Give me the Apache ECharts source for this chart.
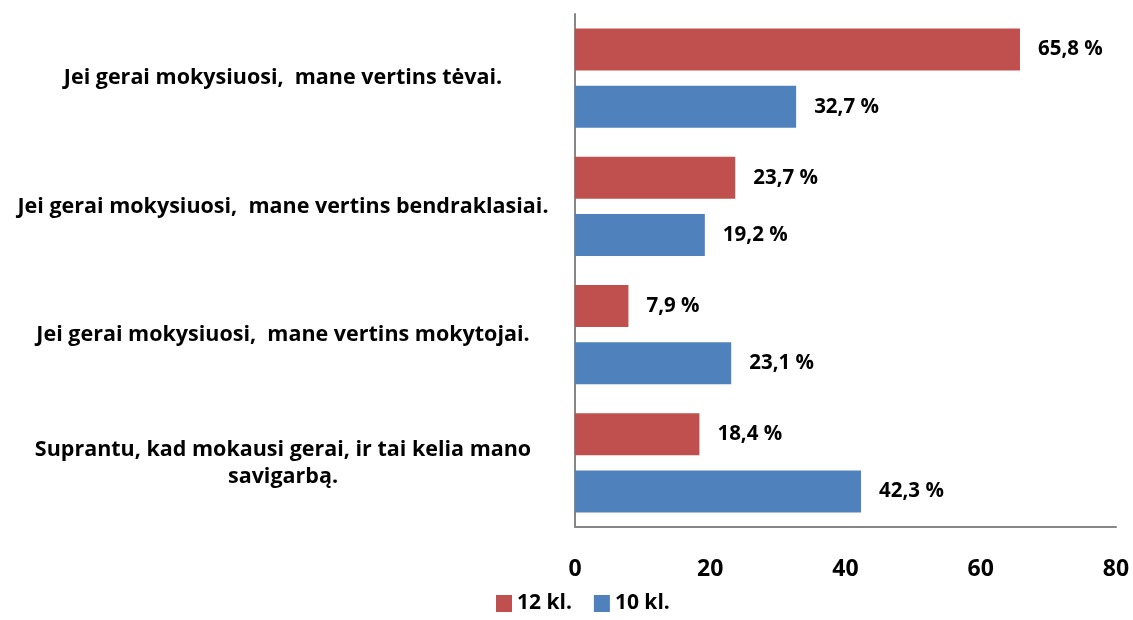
<!DOCTYPE html>
<head>
    <meta charset="utf-8">
    <title>ECharts</title>
</head>
<body style="margin:0">
<div id="main" style="width:1133px;height:620px"></div>
<script src="https://cdn.jsdelivr.net/npm/echarts@6/dist/echarts.min.js"></script>
<script type="text/javascript">
// kategorijos (iš viršaus į apačią)
var categories = [
    'Jei gerai mokysiuosi,  mane vertins tėvai.',
    'Jei gerai mokysiuosi,  mane vertins bendraklasiai.',
    'Jei gerai mokysiuosi,  mane vertins mokytojai.',
    'Suprantu, kad mokausi gerai, ir tai kelia mano\nsavigarbą.'
];
var seriesNames = ['12 kl.', '10 kl.'];
var values12 = [65.8, 23.7, 7.9, 18.4];
var values10 = [32.7, 19.2, 23.1, 42.3];
var xTicks = [0, 20, 40, 60, 80];

var FONT = 'Open Sans';
var myChart = echarts.init(document.getElementById('main'));

function pct(p) {
    return p.value.toFixed(1).replace('.', ',') + ' %';
}

var option = {
    animation: false,
    textStyle: {fontFamily: FONT},
    grid: {left: 575, right: 17, top: 14, bottom: 93, containLabel: false},
    legend: {
        data: seriesNames,
        icon: 'rect',
        bottom: 1,
        left: 491,
        itemWidth: 16,
        itemHeight: 17,
        itemGap: 22,
        textStyle: {fontFamily: FONT, fontSize: 21, fontWeight: 'bold', color: '#000'}
    },
    xAxis: {
        type: 'value',
        min: xTicks[0],
        max: xTicks[xTicks.length - 1],
        interval: 20,
        splitLine: {show: false},
        axisTick: {show: false},
        axisLine: {show: true, lineStyle: {color: '#868686', width: 2}},
        axisLabel: {margin: 31, fontFamily: FONT, fontSize: 23, fontWeight: 'bold', color: '#000'}
    },
    yAxis: {
        type: 'category',
        inverse: true,
        data: categories,
        axisTick: {show: false},
        axisLine: {show: true, lineStyle: {color: '#868686', width: 2}},
        axisLabel: {margin: 292, align: 'center', fontFamily: FONT, fontSize: 21.5, fontWeight: 'bold',
            color: '#000', lineHeight: 27, padding: [8, 0, 0, 0]}
    },
    series: [
        {
            name: seriesNames[0],
            type: 'bar',
            data: values12,
            barWidth: 42,
            barGap: '36%',
            itemStyle: {color: '#C0504D'},
            label: {show: true, position: 'right', distance: 18, formatter: pct,
                fontFamily: FONT, fontSize: 20.5, fontWeight: 'bold', color: '#000'}
        },
        {
            name: seriesNames[1],
            type: 'bar',
            data: values10,
            barWidth: 42,
            barGap: '36%',
            itemStyle: {color: '#4F81BD'},
            label: {show: true, position: 'right', distance: 18, formatter: pct,
                fontFamily: FONT, fontSize: 20.5, fontWeight: 'bold', color: '#000'}
        }
    ]
};
myChart.setOption(option);
</script>
</body>
